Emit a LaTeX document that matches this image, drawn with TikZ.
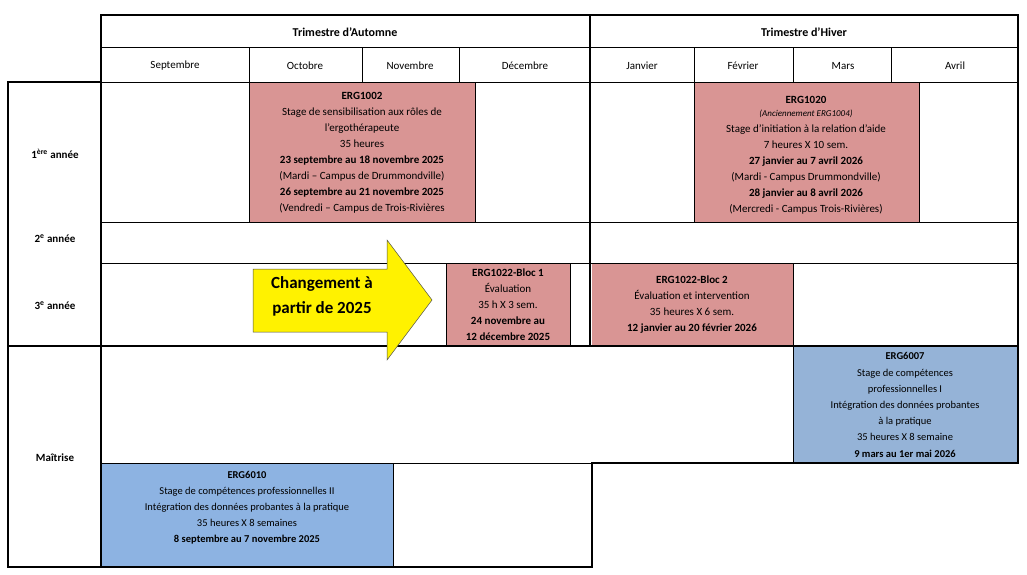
\documentclass[tikz,border=0pt]{standalone}
\usepackage{fontspec}
\setmainfont{Carlito}
\begin{document}
\begin{tikzpicture}[x=1pt,y=-1pt,
  thick line/.style={line width=2.4pt},
  thin line/.style={line width=0.8pt},
  txt/.style={align=center,font=\fontsize{11}{16}\selectfont,inner sep=0pt},
  pinkbox/.style={fill=pk,draw=black,line width=0.6pt},
  bluebox/.style={fill=bl,draw=black,line width=0.6pt}]
\definecolor{pk}{HTML}{D99594}
\definecolor{bl}{HTML}{95B3D7}
\definecolor{bl2}{HTML}{8DB3E2}
\useasboundingbox (0,0) rectangle (1027,574);
% coloured boxes
\fill[pk] (249,82) rectangle (475,222);
\fill[pk] (694,82) rectangle (919,222);
\fill[pk] (446,263) rectangle (570,346);
\fill[pk] (592,263) rectangle (793,346);
\fill[bl] (793,346) rectangle (1018,463);
\fill[bl2] (101,463) rectangle (393,567);
% thin lines
\draw[thin line] (101,47) -- (1018,47);
\draw[thin line] (101,82) -- (1018,82);
\draw[thin line] (101,222) -- (1018,222);
\draw[thin line] (101,263) -- (1018,263);
\foreach \x in {249,362,459} \draw[thin line] (\x,47) -- (\x,82);
\foreach \x in {694,793,891} \draw[thin line] (\x,47) -- (\x,82);
\draw[thin line] (249,82) -- (249,222) (475,82) -- (475,222);
\draw[thin line] (694,82) -- (694,222) (919,82) -- (919,222);
\draw[thin line] (446,263) -- (446,346) (570,263) -- (570,346);
\draw[thin line] (793,263) -- (793,346);
\draw[thin line] (793,346) -- (793,463);
\draw[thin line] (101,463) -- (592,463);
\draw[thin line] (393,463) -- (393,567);
% thick frame
\draw[thick line] (101,567) -- (101,15) -- (1018,15) -- (1018,463) -- (592,463) -- (592,567) -- (8,567) -- (8,82) -- (101,82);
\draw[thick line] (590,15) -- (590,346);
\draw[thick line] (8,346) -- (1018,346);
% header texts
\node[txt,font=\fontsize{12}{14}\selectfont\bfseries] (ta) at (345,32) {Trimestre d’Automne};
\node[txt,font=\fontsize{12}{14}\selectfont\bfseries] (th) at (804,32) {Trimestre d’Hiver};
\node[txt] (m1) at (175,66) {Septembre};
\node[txt] (m2) at (305,66) {Octobre};
\node[txt] (m3) at (410,66) {Novembre};
\node[txt] (m4) at (525,66) {Décembre};
\node[txt] (m5) at (642,66) {Janvier};
\node[txt] (m6) at (743,66) {Février};
\node[txt] (m7) at (843,66) {Mars};
\node[txt] (m8) at (955,66) {Avril};
% row labels
\node[txt,font=\fontsize{11}{13}\selectfont\bfseries] (r1) at (55,154) {1\textsuperscript{ère} année};
\node[txt,font=\fontsize{11}{13}\selectfont\bfseries] (r2) at (55,239) {2\textsuperscript{e} année};
\node[txt,font=\fontsize{11}{13}\selectfont\bfseries] (r3) at (55,306) {3\textsuperscript{e} année};
\node[txt,font=\fontsize{11}{13}\selectfont\bfseries] (r4) at (55,458) {Maîtrise};
% arrow
\draw[fill=yellow,draw=black!70,line width=0.5pt] (253,269) -- (387,269) -- (387,240) -- (432,300) -- (387,360) -- (387,332) -- (253,332) -- cycle;
\node[txt,font=\fontsize{17}{25}\selectfont\bfseries] (chg) at (322,296) {Changement à\\partir de 2025};
% box texts
\node[txt] (b1) at (362,153) {\textbf{ERG1002}\\Stage de sensibilisation aux rôles de\\l’ergothérapeute\\35 heures\\\textbf{23 septembre au 18 novembre 2025}\\(Mardi – Campus de Drummondville)\\\textbf{26 septembre au 21 novembre 2025}\\(Vendredi – Campus de Trois-Rivières};
\node[txt] (b2) at (806,155) {\textbf{ERG1020}\\[-3pt]{\fontsize{9}{11}\selectfont\itshape (Anciennement ERG1004)}\\Stage d’initiation à la relation d’aide\\7 heures X 10 sem.\\\textbf{27 janvier au 7 avril 2026}\\(Mardi - Campus Drummondville)\\\textbf{28 janvier au 8 avril 2026}\\(Mercredi - Campus Trois-Rivières)};
\node[txt] (b3) at (508,305) {\textbf{ERG1022-Bloc 1}\\Évaluation\\35 h X 3 sem.\\\textbf{24 novembre au}\\\textbf{12 décembre 2025}};
\node[txt] (b4) at (692,305) {\textbf{ERG1022-Bloc 2}\\Évaluation et intervention\\35 heures X 6 sem.\\\textbf{12 janvier au 20 février 2026}};
\node[txt,font=\fontsize{10.5}{16.2}\selectfont] (b5) at (905,405) {\textbf{ERG6007}\\Stage de compétences\\professionnelles I\\Intégration des données probantes\\à la pratique\\35 heures X 8 semaine\\\textbf{9 mars au 1er mai 2026}};
\node[txt,font=\fontsize{10.5}{16}\selectfont] (b6) at (247,508) {\textbf{ERG6010}\\Stage de compétences professionnelles II\\Intégration des données probantes à la pratique\\35 heures X 8 semaines\\\textbf{8 septembre au 7 novembre 2025}};
\end{tikzpicture}
\end{document}
